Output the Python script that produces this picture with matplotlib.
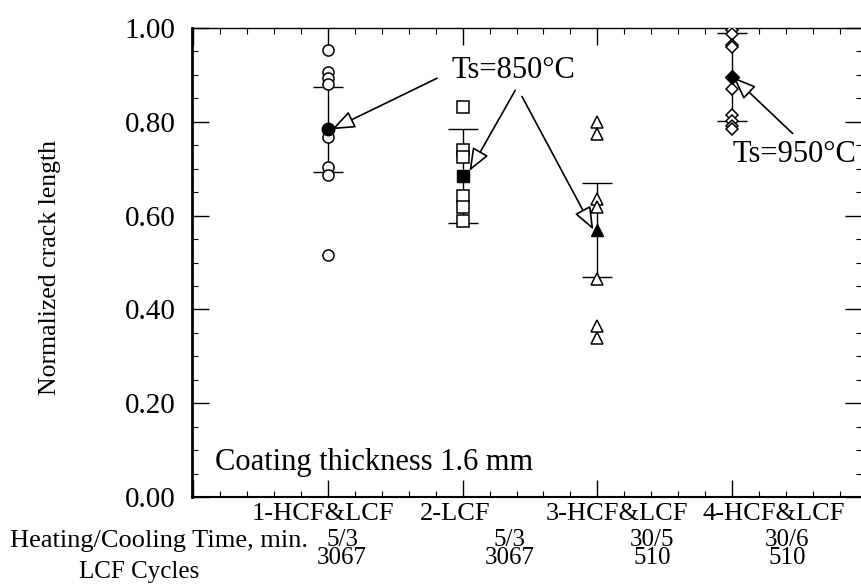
import numpy as np
import matplotlib.pyplot as plt
from matplotlib.ticker import MultipleLocator, FormatStrFormatter

# data
categories = ['1-HCF&LCF', '2-LCF', '3-HCF&LCF', '4-HCF&LCF']
heat_cool = ['5/3', '5/3', '30/5', '30/6']
lcf_cycles = ['3067', '3067', '510', '510']

g1_points = [0.953, 0.906, 0.893, 0.880, 0.767, 0.704, 0.687, 0.516]
g2_points = [0.831, 0.739, 0.724, 0.642, 0.619, 0.589]
g3_points = [0.799, 0.773, 0.636, 0.619, 0.465, 0.364, 0.340]
g4_points = [0.996, 0.987, 0.964, 0.959, 0.869, 0.814, 0.801, 0.790, 0.784]

means = [0.784, 0.685, 0.570, 0.895]
errors = [0.090, 0.100, 0.100, 0.094]

markers = ['o', 's', '^', 'D']
msizes = [8, 8, 8, 6]

plt.rcParams['font.family'] = ['Liberation Serif', 'DejaVu Serif']

fig = plt.figure(figsize=(8.62, 5.84), dpi=100)
ax = fig.add_axes([192/862, 1-497/584, (862-192)/862, (497-28)/584])

xpos = np.arange(1, len(categories)+1)
all_points = [g1_points, g2_points, g3_points, g4_points]

for i, pts in enumerate(all_points):
    ax.errorbar(xpos[i], means[i], yerr=errors[i], fmt='none', ecolor='black',
                elinewidth=1.0, capsize=11, capthick=1.0, zorder=2)
    ax.plot([xpos[i]]*len(pts), pts, linestyle='none', marker=markers[i],
            ms=msizes[i], mfc='white', mec='black', mew=1.1, zorder=3)
    ax.plot(xpos[i], means[i], linestyle='none', marker=markers[i],
            ms=msizes[i]+1, mfc='black', mec='black', zorder=4)

ax.set_xlim(-0.01, 4.965)
ax.set_ylim(0, 1.0)
ax.yaxis.set_major_locator(MultipleLocator(0.2))
ax.yaxis.set_minor_locator(MultipleLocator(0.05))
ax.yaxis.set_major_formatter(FormatStrFormatter('%.2f'))
ax.xaxis.set_major_locator(MultipleLocator(1))
ax.xaxis.set_minor_locator(MultipleLocator(0.2))
ax.tick_params(which='both', direction='in', top=True, right=True)
ax.tick_params(which='major', length=12, width=1.0, labelsize=21, pad=12)
ax.tick_params(which='minor', length=4, width=0.8)
ax.set_xticklabels([])
ax.spines['left'].set_linewidth(2.0)
ax.spines['bottom'].set_linewidth(1.5)
ax.spines['top'].set_linewidth(1.0)
ax.spines['right'].set_visible(False)

ax.set_ylabel('Normalized crack length', fontsize=18.5)
ax.yaxis.set_label_coords(-0.195, 0.49)

# annotations
arrow = dict(arrowstyle='-|>,head_length=1.4,head_width=0.55', fc='white',
             ec='black', lw=1.2, shrinkA=0, shrinkB=0)
ax.annotate('', xy=(xpos[0]+0.03, means[0]), xytext=(1.81, 0.893), arrowprops=arrow)
ax.annotate('', xy=(xpos[1]+0.05, means[1]+0.01), xytext=(2.39, 0.867), arrowprops=arrow)
ax.annotate('', xy=(xpos[2]-0.03, means[2]), xytext=(2.44, 0.854), arrowprops=arrow)
ax.annotate('', xy=(xpos[3]+0.01, means[3]), xytext=(4.45, 0.775), arrowprops=arrow)
ax.text(1.92, 0.893, 'Ts=850°C', fontsize=22, ha='left', va='baseline')
ax.text(4.0, 0.715, 'Ts=950°C', fontsize=22, ha='left', va='baseline')
ax.text(0.16, 0.058, 'Coating thickness 1.6 mm', fontsize=22, ha='left', va='baseline')

# category table under the axis
row1_x = [323, 455, 617, 774]
row2_x = [342, 510, 652, 787]
for i in range(len(categories)):
    fig.text(row1_x[i]/862, 1-514/584, categories[i], fontsize=19, ha='center', va='center')
    fig.text(row2_x[i]/862, 1-549/584, heat_cool[i] + '\n' + lcf_cycles[i],
             fontsize=18, ha='center', va='center', linespacing=0.72)
fig.text(159/862, 1-541/584, 'Heating/Cooling Time, min.', fontsize=19, ha='center', va='center')
fig.text(139/862, 1-572/584, 'LCF Cycles', fontsize=18, ha='center', va='center')

fig.savefig('out.png', dpi=100)
